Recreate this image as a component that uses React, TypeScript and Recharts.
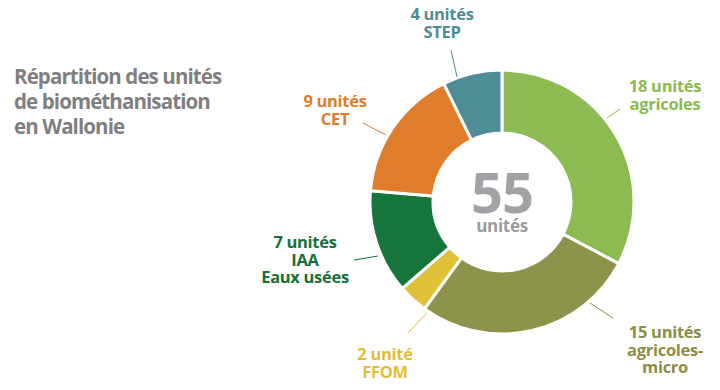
import React from "react";
import { PieChart, Pie, Cell } from "recharts";

const categories = ["agricoles", "agricoles-micro", "FFOM", "IAA Eaux usées", "CET", "STEP"];
const units = [18, 15, 2, 7, 9, 4];
const labelTexts = [
  ["18 unités", "agricoles"],
  ["15 unités", "agricoles-", "micro"],
  ["2 unité", "FFOM"],
  ["7 unités", "IAA", "Eaux usées"],
  ["9 unités", "CET"],
  ["4 unités", "STEP"],
];
const sliceColors = ["#8BBB51", "#8D934A", "#E2C13A", "#16753B", "#E07D2A", "#4E8D96"];
const textColors = ["#8BBB51", "#8A8E45", "#E0BD38", "#16703A", "#E07D2A", "#4E8D96"];
const totalLabel = "55";
const totalUnit = "unités";
const titleLines = ["Répartition des unités", "de biométhanisation", "en Wallonie"];

// label placement (text centre x, first baseline y, leader line from -> to)
const labelLayout = [
  { x: 665, y: 92, l: [607, 118, 620, 109] },
  { x: 665, y: 338, l: [590, 303, 613, 318] },
  { x: 385, y: 360, l: [427, 313, 408, 333] },
  { x: 305, y: 248, l: [378, 256, 354, 260] },
  { x: 335, y: 107, l: [386, 135, 363, 123] },
  { x: 442, y: 20, l: [457, 77, 451, 50] },
];

const data = categories.map((c, i) => ({ name: c, value: units[i] }));

const FONT = "'Open Sans', 'Noto Sans', sans-serif";

const renderLabel = (props: any) => {
  const { index, cx, cy } = props;
  const lay = labelLayout[index];
  const lines = labelTexts[index];
  const col = textColors[index];
  return (
    <g key={`lbl-${index}`}>
      <line x1={lay.l[0]} y1={lay.l[1]} x2={lay.l[2]} y2={lay.l[3]} stroke={col} strokeWidth={1} />
      <text
        x={lay.x}
        y={lay.y}
        textAnchor="middle"
        fill={col}
        style={{ fontFamily: FONT, fontWeight: 700, fontSize: 16.5, letterSpacing: -0.3 }}
      >
        {lines.map((t, k) => (
          <tspan key={k} x={lay.x} dy={k === 0 ? 0 : 17.5}>
            {t}
          </tspan>
        ))}
      </text>
      {index === 0 && (
        <g>
          <text
            x={cx}
            y={cy + 11}
            textAnchor="middle"
            fill="#A2A2A6"
            style={{ fontFamily: FONT, fontWeight: 700, fontSize: 56, letterSpacing: -1 }}
          >
            {totalLabel}
          </text>
          <text
            x={cx}
            y={cy + 30}
            textAnchor="middle"
            fill="#9C9CA0"
            style={{ fontFamily: FONT, fontWeight: 700, fontSize: 17, letterSpacing: -0.3 }}
          >
            {totalUnit}
          </text>
        </g>
      )}
    </g>
  );
};

export default function App() {
  return (
    <div style={{ position: "absolute", left: 0, top: 0, width: 720, height: 390, background: "#fff" }}>
      <div
        style={{
          position: "absolute",
          left: 14,
          top: 64,
          fontFamily: FONT,
          fontWeight: 700,
          fontSize: 20.5,
          lineHeight: "25px",
          color: "#7F7F7F",
          letterSpacing: -0.9,
          whiteSpace: "nowrap",
        }}
      >
        {titleLines.map((t, i) => (
          <div key={i}>{t}</div>
        ))}
      </div>
      <PieChart width={720} height={390} margin={{ top: 0, right: 0, bottom: 0, left: 0 }} style={{ position: "absolute", left: 0, top: 0 }}>
        <Pie
          data={data}
          dataKey="value"
          nameKey="name"
          cx={502}
          cy={202}
          innerRadius={69}
          outerRadius={132}
          startAngle={90}
          endAngle={-270}
          stroke="#FFFFFF"
          strokeWidth={3}
          label={renderLabel}
          labelLine={false}
          isAnimationActive={false}
        >
          {data.map((d, i) => (
            <Cell key={d.name} fill={sliceColors[i]} />
          ))}
        </Pie>
      </PieChart>
    </div>
  );
}
